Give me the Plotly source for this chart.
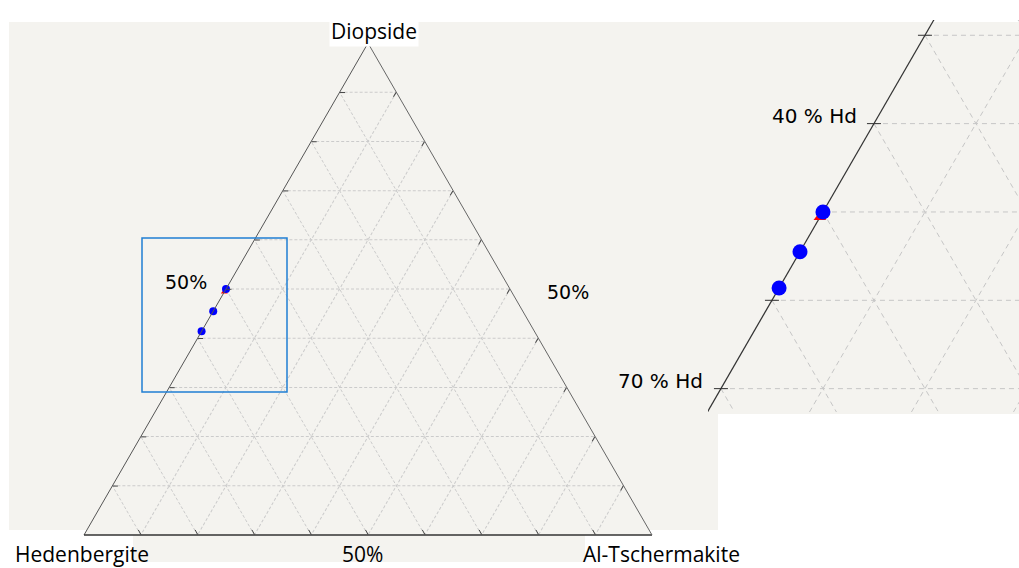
import math
import plotly.graph_objects as go

# ---------------- data ----------------
corner_labels = ["Diopside", "Hedenbergite", "Al-Tschermakite"]
diopside = [0.500, 0.455, 0.414]        # fraction Di
hedenbergite = [0.500, 0.545, 0.586]    # fraction Hd
al_tschermakite = [0.0, 0.0, 0.0]       # fraction Al-Ts

red_di = [0.494]
red_hd = [0.506]
red_al = [0.0]

grid_levels = [0.1, 0.2, 0.3, 0.4, 0.5, 0.6, 0.7, 0.8, 0.9]
inset_tick_hd = [0.3, 0.4, 0.6, 0.7]
inset_labels = {"40 % Hd": 0.4, "70 % Hd": 0.7}

BEIGE = "#f4f3ef"
W, H = 1019, 568
S3 = math.sqrt(3) / 2


def px(x):
    return x / W


def py(y):
    return 1 - y / H


def tern_xy(a, b, c):
    """Ternary (Di, Hd, Al) -> cartesian (Hd corner at origin)."""
    return c + a / 2.0, a * S3


fig = go.Figure()

# ---------------- main ternary ----------------
fig.add_trace(go.Scatterternary(
    a=red_di, b=red_hd, c=red_al, mode="markers",
    marker=dict(symbol="triangle-up", size=6, color="red"),
    cliponaxis=False, subplot="ternary", hoverinfo="skip"))
fig.add_trace(go.Scatterternary(
    a=diopside, b=hedenbergite, c=al_tschermakite, mode="markers",
    marker=dict(symbol="circle", size=8, color="#0000ff"),
    cliponaxis=False, subplot="ternary"))

axis_common = dict(showticklabels=False, ticks="inside", ticklen=5,
                   tickcolor="#444", tick0=0, dtick=0.1,
                   showgrid=True, gridcolor="#cbcbcb", griddash="3px,2px",
                   gridwidth=1, title=dict(text=""))

# ---------------- inset (zoomed view of Di-Hd join) ----------------
def family(kind):
    xs, ys = [], []
    for v in grid_levels:
        if kind == "a":
            p1, p2 = (v, 1 - v, 0), (v, 0, 1 - v)
        elif kind == "b":
            p1, p2 = (1 - v, v, 0), (0, v, 1 - v)
        else:
            p1, p2 = (0, 1 - v, v), (1 - v, 0, v)
        x1, y1 = tern_xy(*p1)
        x2, y2 = tern_xy(*p2)
        xs += [x1, x2, None]
        ys += [y1, y2, None]
    return xs, ys


for kind in ["b", "c", "a"]:
    gx, gy = family(kind)
    fig.add_trace(go.Scatter(x=gx, y=gy, mode="lines",
                             line=dict(color="#c6c6c6", width=1, dash="5px,4px"),
                             hoverinfo="skip", xaxis="x", yaxis="y"))

# Di-Hd edge
ex, ey = zip(*[tern_xy(1 - h, h, 0) for h in (0.0, 1.0)])
fig.add_trace(go.Scatter(x=list(ex), y=list(ey), mode="lines",
                         line=dict(color="#333", width=1.2),
                         hoverinfo="skip", xaxis="x", yaxis="y"))

# edge ticks
tx, ty = zip(*[tern_xy(1 - h, h, 0) for h in inset_tick_hd])
fig.add_trace(go.Scatter(x=list(tx), y=list(ty), mode="markers",
                         marker=dict(symbol="line-ew", size=10,
                                     line=dict(color="#333", width=1)),
                         hoverinfo="skip", xaxis="x", yaxis="y"))

rx, ry = zip(*[tern_xy(a, b, c) for a, b, c in zip(red_di, red_hd, red_al)])
fig.add_trace(go.Scatter(x=list(rx), y=list(ry), mode="markers",
                         marker=dict(symbol="triangle-up", size=11, color="red"),
                         hoverinfo="skip", xaxis="x", yaxis="y"))
bx, by = zip(*[tern_xy(a, b, c) for a, b, c in zip(diopside, hedenbergite, al_tschermakite)])
fig.add_trace(go.Scatter(x=list(bx), y=list(by), mode="markers",
                         marker=dict(symbol="circle", size=15, color="#0000ff"),
                         xaxis="x", yaxis="y"))

# ---------------- background shapes ----------------
shapes = []
for (x0, y0, x1, y1) in [(9, 22, 1019, 414), (9, 22, 718, 530), (133, 528, 585, 562)]:
    shapes.append(dict(type="rect", xref="paper", yref="paper",
                       x0=px(x0), x1=px(x1), y0=py(y1), y1=py(y0),
                       fillcolor=BEIGE, line=dict(width=0), layer="below"))
# zoom box
shapes.append(dict(type="rect", xref="paper", yref="paper",
                   x0=px(142), x1=px(287), y0=py(392), y1=py(238),
                   line=dict(color="#1f7fd4", width=1.5), layer="above"))

# ---------------- annotations ----------------
label_font = dict(family="Open Sans, sans-serif", size=21, color="black")
pct_font = dict(family="DejaVu Sans, sans-serif", size=19, color="black")
inset_font = dict(family="DejaVu Sans, sans-serif", size=20, color="black")
annotations = [
    dict(text=corner_labels[0], x=px(374), y=py(31), font=label_font,
         bgcolor="white", borderpad=1),
    dict(text=corner_labels[1], x=px(82), y=py(554), font=label_font),
    dict(text=corner_labels[2], x=px(661), y=py(554), font=label_font),
    dict(text="50%", x=px(362), y=py(554), font=label_font),
    dict(text="50%", x=px(186), y=py(282), font=pct_font),
    dict(text="50%", x=px(568), y=py(292), font=pct_font),
]
for txt, hd in inset_labels.items():
    yy = 123 + (hd - 0.4) / 0.1 * 88.3
    xc = 814 if hd == 0.4 else 660
    annotations.append(dict(text=txt, x=px(xc), y=py(yy - 7), font=inset_font))
for a in annotations:
    a.update(xref="paper", yref="paper", showarrow=False,
             xanchor="center", yanchor="middle")

fig.update_layout(
    width=W, height=H, margin=dict(l=0, r=0, t=0, b=0),
    paper_bgcolor="white", plot_bgcolor="rgba(0,0,0,0)", showlegend=False,
    ternary=dict(
        domain=dict(x=[px(84), px(652)], y=[py(535), py(535 - 568 * S3)]),
        sum=1, bgcolor=BEIGE,
        aaxis=dict(**axis_common, showline=True, linecolor="#555", linewidth=1),
        baxis=dict(**axis_common, showline=True, linecolor="#333", linewidth=1.5),
        caxis=dict(**axis_common, showline=True, linecolor="#666", linewidth=1),
    ),
    xaxis=dict(domain=[px(708), 1.0], range=[0.1373, 0.4422], visible=False,
               fixedrange=True),
    yaxis=dict(domain=[py(412), py(20)], range=[0.2369, 0.6212], visible=False,
               fixedrange=True),
    shapes=shapes, annotations=annotations,
)

fig.write_html("out.html")
